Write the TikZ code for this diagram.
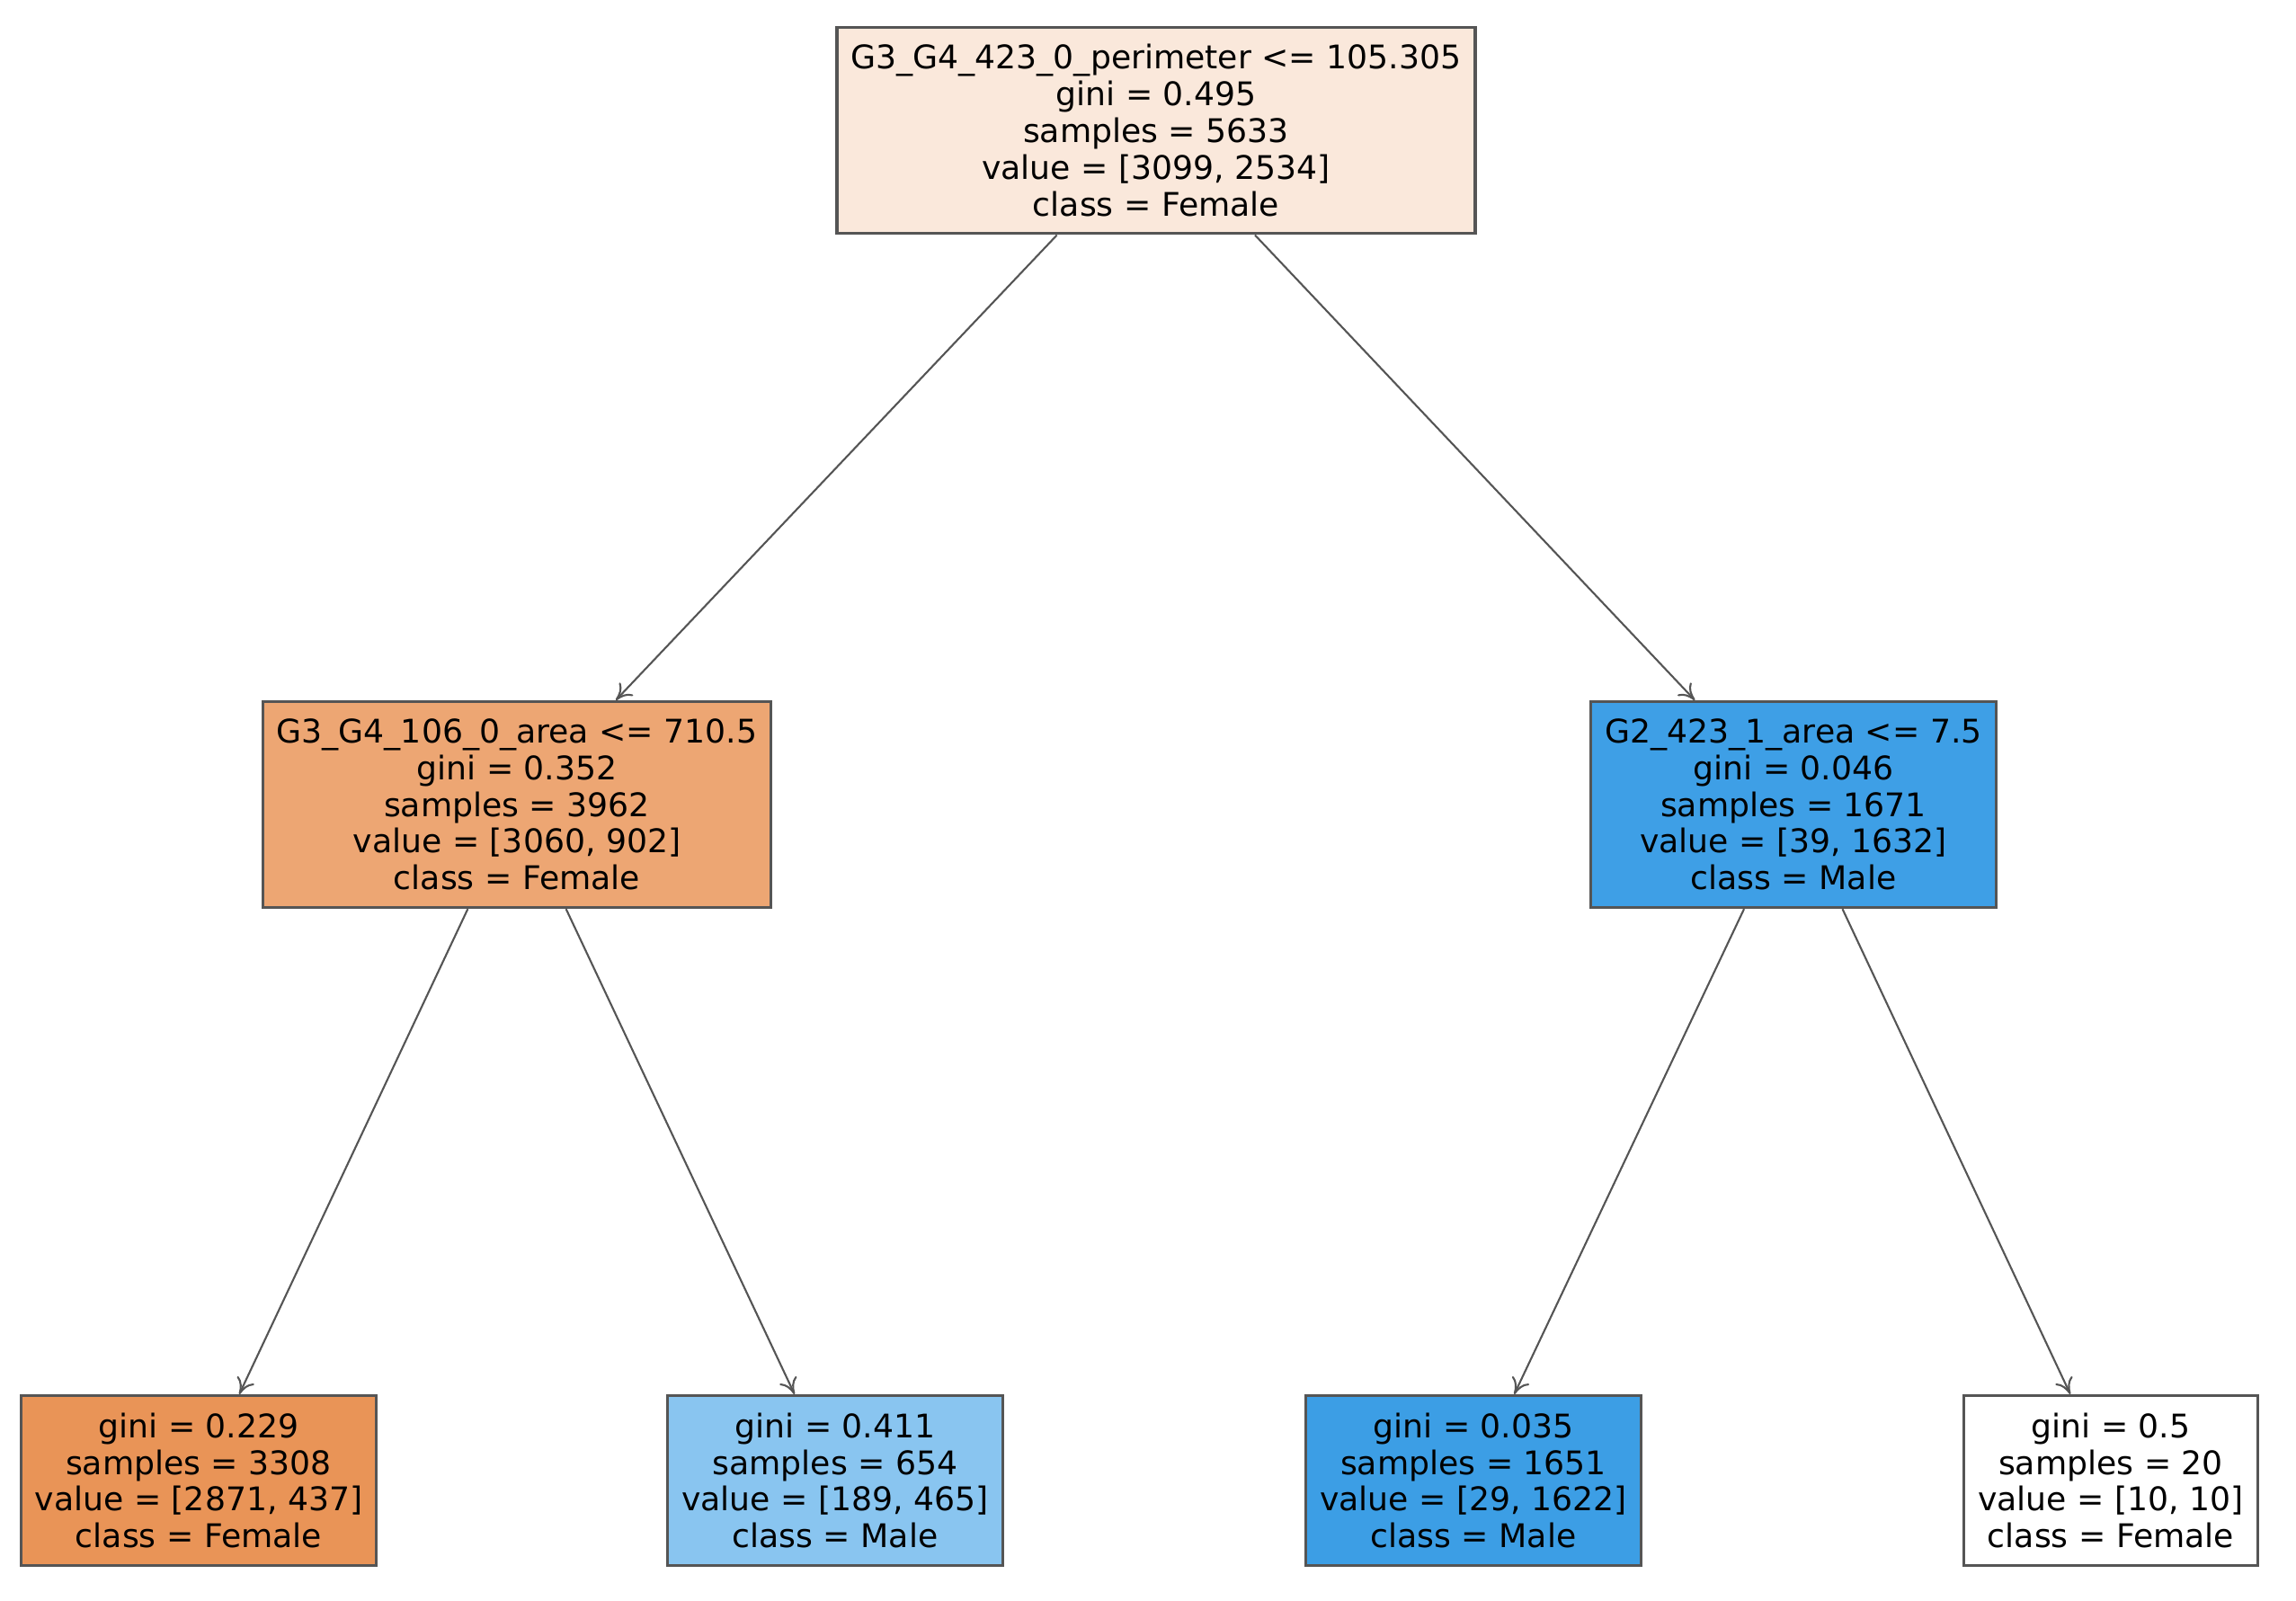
\documentclass[tikz,border=0pt]{standalone}
\usepackage{fontspec}
\setmainfont{DejaVu Sans}
\usepackage{tikz}
\usetikzlibrary{arrows.meta}

\definecolor{rootfill}{RGB}{250,232,219}
\definecolor{femmid}{RGB}{237,166,115}
\definecolor{femleaf}{RGB}{233,148,87}
\definecolor{malelight}{RGB}{137,197,240}
\definecolor{malemid}{RGB}{62,159,230}
\definecolor{maleleaf}{RGB}{60,158,229}
\definecolor{edgegray}{RGB}{85,85,85}

\begin{document}
\begin{tikzpicture}[split/.style = {draw=edgegray, line width=0.9pt, align=center, font=\fontsize{10.3}{11.6}\selectfont, inner xsep=4.4pt, inner ysep=5.5pt},
                    edge/.style = {draw=edgegray, line width=0.6pt, -{To[length=5pt,width=6pt]}}]
        \useasboundingbox (0,0) rectangle (25.54,-17.80);
        \node[split, fill=rootfill] (1) at (12.86,-1.45) {G3\_G4\_423\_0\_perimeter <= 105.305\\gini = 0.495\\samples = 5633\\value = [3099, 2534]\\class = Female};
        \node[split, fill=femmid] (2) at (5.75,-8.95) {G3\_G4\_106\_0\_area <= 710.5\\gini = 0.352\\samples = 3962\\value = [3060, 902]\\class = Female};
        \node[split, fill=malemid] (3) at (19.95,-8.95) {G2\_423\_1\_area <= 7.5\\gini = 0.046\\samples = 1671\\value = [39, 1632]\\class = Male};
        \node[split, fill=femleaf] (4) at (2.21,-16.47) {gini = 0.229\\samples = 3308\\value = [2871, 437]\\class = Female};
        \node[split, fill=malelight] (5) at (9.29,-16.47) {gini = 0.411\\samples = 654\\value = [189, 465]\\class = Male};
        \node[split, fill=maleleaf] (6) at (16.39,-16.47) {gini = 0.035\\samples = 1651\\value = [29, 1622]\\class = Male};
        \node[split, fill=white] (7) at (23.48,-16.47) {gini = 0.5\\samples = 20\\value = [10, 10]\\class = Female};
        \draw[edge] (1) -- (2);
        \draw[edge] (1) -- (3);
        \draw[edge] (2) -- (4);
        \draw[edge] (2) -- (5);
        \draw[edge] (3) -- (6);
        \draw[edge] (3) -- (7);
        \end{tikzpicture}
\end{document}
